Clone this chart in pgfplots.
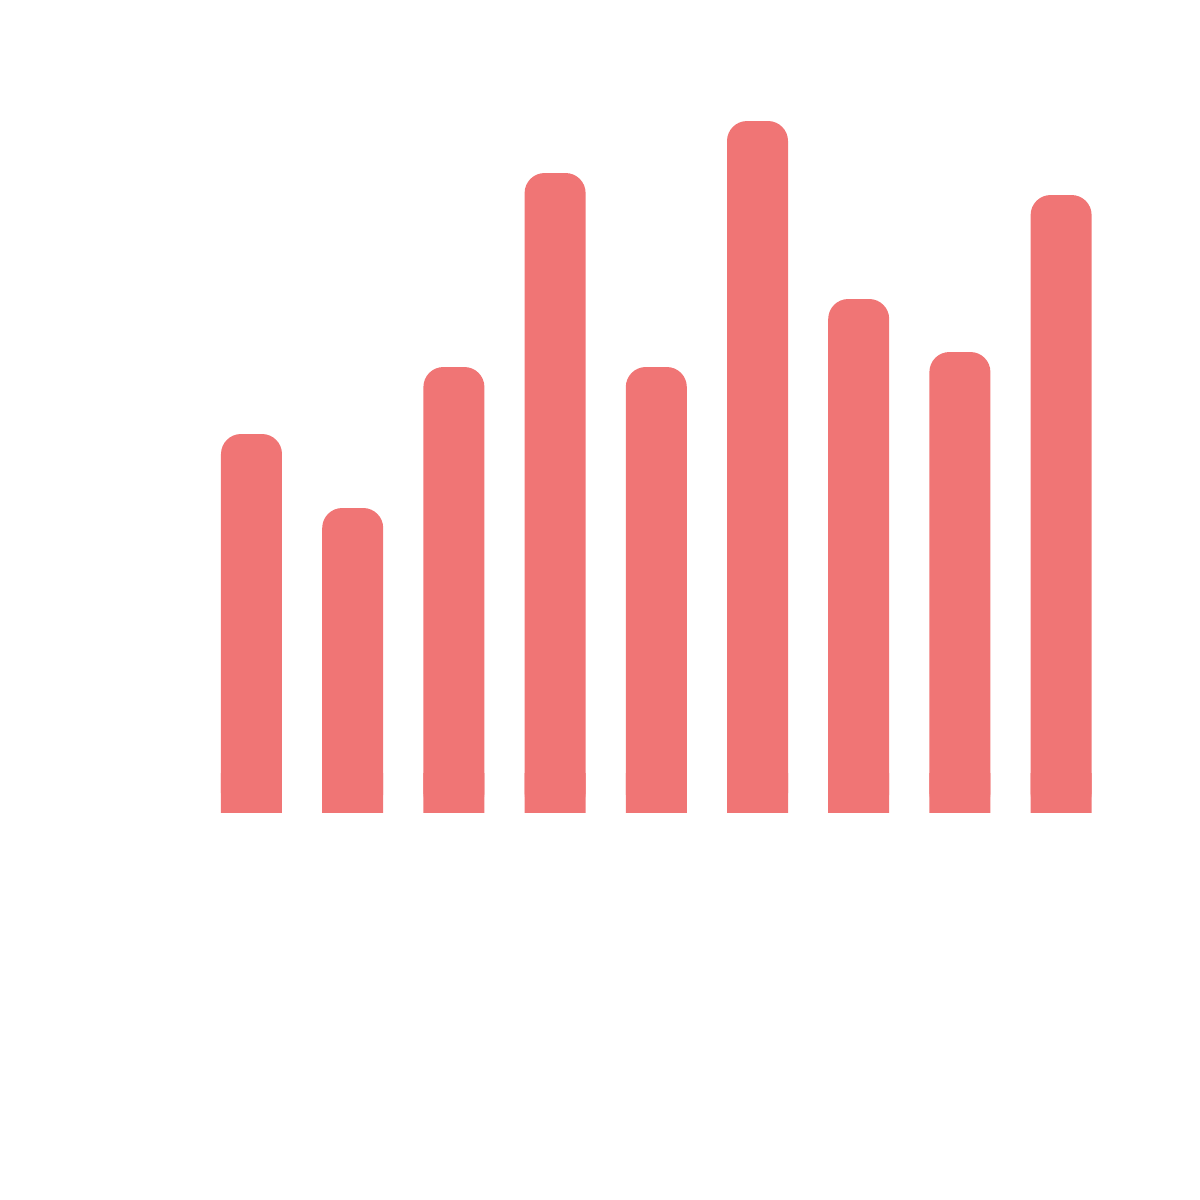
\documentclass[border=0pt]{standalone}
\usepackage{pgfplots}
\pgfplotsset{compat=1.18}
\definecolor{barc}{HTML}{F07575}
\begin{document}
\begin{tikzpicture}
\path[use as bounding box] (0,0) rectangle (12cm,12cm);
\begin{axis}[
  at={(2.515cm,3.87cm)}, anchor=origin,
  hide axis, scale only axis,
  width=10.12cm, height=8cm,
  xmin=-1, xmax=9, ymin=0, ymax=800,
  clip=false,
  ybar, bar width=0.61cm, bar shift=0pt,
]
\addplot[fill=barc, draw=none, rounded corners=2mm] coordinates {
(0,379) (1,305) (2,446) (3,640) (4,446) (5,692) (6,514) (7,461) (8,618)};
\addplot[fill=barc, draw=none] coordinates {
(0,40) (1,40) (2,40) (3,40) (4,40) (5,40) (6,40) (7,40) (8,40)};
\end{axis}
\end{tikzpicture}
\end{document}
